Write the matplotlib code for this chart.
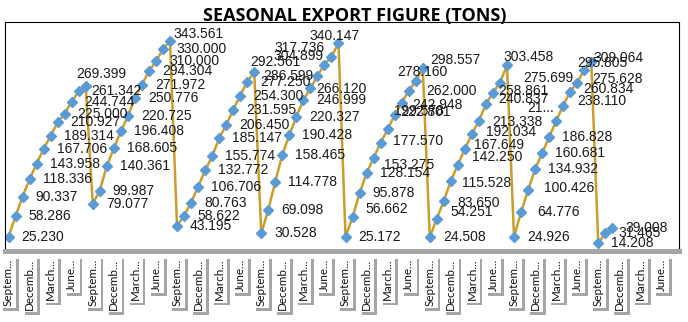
import numpy as np
import matplotlib.pyplot as plt
import matplotlib.patheffects as pe

# monthly export, each season runs September -> August
season1 = [25.230, 58.286, 90.337, 118.336, 143.958, 167.706, 189.314, 210.927, 225.000, 244.744, 261.342, 269.399]
season2 = [79.077, 99.987, 140.361, 168.605, 196.408, 220.725, 250.776, 271.972, 294.304, 310.000, 330.000, 343.561]
season3 = [43.195, 58.622, 80.763, 106.706, 132.772, 155.774, 185.147, 206.450, 231.595, 254.300, 277.250, 292.561]
season4 = [30.528, 69.098, 114.778, 158.465, 190.428, 220.327, 246.999, 266.120, 286.599, 304.899, 317.736, 340.147]
season5 = [25.172, 56.662, 95.878, 128.154, 153.275, 177.570, 199.578, 222.801, 242.948, 262.000, 278.160, 298.557]
season6 = [24.508, 54.251, 83.650, 115.528, 142.250, 167.649, 192.034, 213.338, 240.837, 258.861, 275.699, 303.458]
season7 = [24.926, 64.776, 100.426, 134.932, 160.681, 186.828, 213.100, 238.110, 260.834, 275.628, 295.805, 309.064]
season8 = [14.208, 31.465, 39.008]

n_months = 96
tick_labels = ["Septem...", "Decemb...", "March...", "June..."] * 8

values = season1 + season2 + season3 + season4 + season5 + season6 + season7 + season8
x = np.arange(len(values))

# label text shown by the chart (one was cut short)
label_text = {78: "21..."}
# label offsets in pixels (dx to left edge, dy up), default right of marker
label_off = {
    11: (-9, 12), 23: (3, 7), 35: (-4, 10), 43: (6, -1), 44: (-54, 0),
    45: (-51, 9), 46: (-57, 9), 47: (-29, 7), 49: (13, 8), 52: (10, -7),
    53: (12, 2), 54: (6, 18), 55: (6, 3), 56: (11, -2), 57: (18, 0),
    58: (-18, 9), 59: (8, 8), 61: (14, 7), 62: (14, -2), 63: (11, -2),
    64: (14, 8), 65: (9, 4), 66: (14, 2), 67: (13, -1), 68: (12, 5),
    69: (5, 2), 70: (23, 5), 71: (-4, 8), 73: (16, 0), 74: (16, 2),
    78: (-29, 13), 79: (14, 5), 80: (13, 3), 81: (15, 4), 82: (-7, 7),
    83: (2, 4),
}

fig = plt.figure(figsize=(6.88, 3.22), dpi=100)
ax = fig.add_axes([5 / 688, (322 - 251) / 322, 674 / 688, 229 / 322])

ax.plot(x, values, color='#CC9D2A', lw=1.8, marker='D', ms=5.5,
        mfc='#5B9BD5', mec='#5B9BD5', zorder=2)

for i, v in enumerate(values):
    dx, dy = label_off.get(i, (13, 0))
    ax.annotate(label_text.get(i, f"{v:.3f}"), (i, v), xytext=(dx, dy),
                textcoords='offset pixels', ha='left', va='center',
                fontsize=10, family='Liberation Sans', color='#1a1a1a',
                zorder=3, annotation_clip=False)

ax.set_xlim(-0.5, n_months - 0.5)
ax.set_ylim(2, 374)
ax.set_yticks([])
ax.set_xticks(np.arange(0, n_months, 3))
ax.set_xticklabels(tick_labels, rotation=90, fontsize=8.4,
                   family=['Liberation Sans Narrow', 'Lato'], color='#111111')
ax.tick_params(axis='x', length=0, pad=5.5)
for lbl in ax.get_xticklabels():
    lbl.set_bbox(dict(boxstyle='square,pad=0.2', fc='white', ec='none'))
    lbl.get_bbox_patch().set_path_effects(
        [pe.withSimplePatchShadow(offset=(2, -2), shadow_rgbFace='#7f7f7f', alpha=0.7)])

for side in ['left', 'right', 'top']:
    ax.spines[side].set_color('black')
    ax.spines[side].set_linewidth(0.8)
ax.spines['bottom'].set_color('#a6a6a6')
ax.spines['bottom'].set_linewidth(3.6)

fig.text(355 / 688, 1 - 21 / 322, 'SEASONAL EXPORT FIGURE (TONS)', ha='center',
         va='baseline', fontsize=13, fontweight='bold', family='Open Sans',
         color='black')

fig.savefig('out.png', dpi=100)
